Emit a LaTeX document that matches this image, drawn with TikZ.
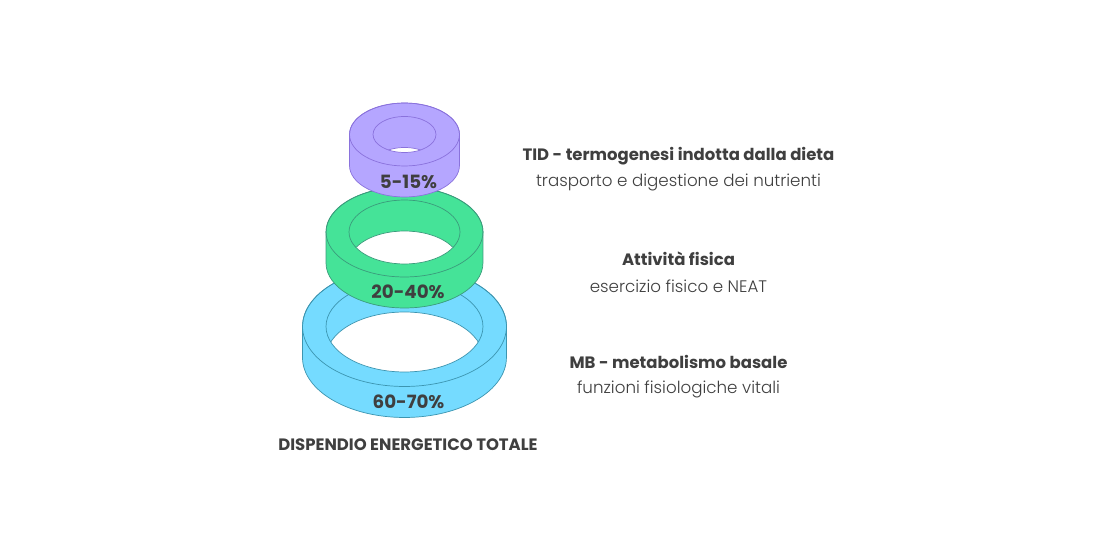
\documentclass[tikz,border=0pt]{standalone}
\usepackage{xcolor}
\usepackage{fontspec}
\usepackage{tikz}
\setmainfont{Poppins}[UprightFont=*-Light,BoldFont=*-Bold]
\definecolor{lilla}{HTML}{B5A6FF}
\definecolor{lillaline}{HTML}{8A72DC}
\definecolor{verde}{HTML}{45E398}
\definecolor{verdeline}{HTML}{3B9C7C}
\definecolor{azzurro}{HTML}{75DBFF}
\definecolor{azzurroline}{HTML}{3C95B0}
\definecolor{testo}{HTML}{3F3F3F}

\begin{document}
\begin{tikzpicture}[
	x=0.02cm,y=-0.02cm,
	line width=0.4pt,
	text=testo,
	perc/.style={font=\fontsize{10.4pt}{12pt}\bfseries},
	title/.style={font=\fontsize{9.38pt}{12pt}\bfseries},
	sub/.style={font=\fontsize{9.5pt}{12pt}\selectfont}]
  \useasboundingbox (0,0) rectangle (1100,550);
  \fill[white] (0,0) rectangle (1100,550);
  % cy / outer rx, ry / inner rx, ry / depth / colours
  \foreach \cy/\ro/\so/\ri/\si/\dp/\col/\lc in {
      326.5/102/60/78.5/45.5/31/azzurro/azzurroline,
      232/78.5/45/55.5/32/31/verde/verdeline,
      134.5/55/31.5/31.5/18/31/lilla/lillaline}{
    \draw[draw=\lc,fill=\col] (404.5-\ro,\cy) -- ++(0,\dp) arc (180:360:\ro*0.569pt and \so*0.569pt)
      -- (404.5+\ro,\cy) arc (0:180:\ro*0.569pt and \so*0.569pt) -- cycle;
    \draw[draw=\lc] (404.5,\cy) ellipse ({\ro*0.569pt} and {\so*0.569pt});
    \begin{scope}
      \clip (404.5,\cy) ellipse ({\ri*0.569pt} and {\si*0.569pt});
      \draw[draw=\lc,fill=white] (404.5,\cy+\dp) ellipse ({\ri*0.569pt} and {\si*0.569pt});
    \end{scope}
    \draw[draw=\lc] (404.5,\cy) ellipse ({\ri*0.569pt} and {\si*0.569pt});
  }
  \node[perc] (lab5) at (408.5,182) {5-15\%};
  \node[perc] (lab20) at (408,292) {20-40\%};
  \node[perc] (lab60) at (408.5,402) {60-70\%};
  \node[title] (totale) at (408,445) {DISPENDIO ENERGETICO TOTALE};
  \node[title] (tid) at (678.5,156.5) {TID - termogenesi indotta dalla dieta};
  \node[sub] (tidsub) at (678.5,182.5) {trasporto e digestione dei nutrienti};
  \node[title] (att) at (678.5,259) {Attività fisica};
  \node[sub] (attsub) at (678.5,286) {esercizio fisico e NEAT};
  \node[title] (mb) at (678.5,362) {MB - metabolismo basale};
  \node[sub] (mbsub) at (678.5,389.5) {funzioni fisiologiche vitali};
\end{tikzpicture}
\end{document}
